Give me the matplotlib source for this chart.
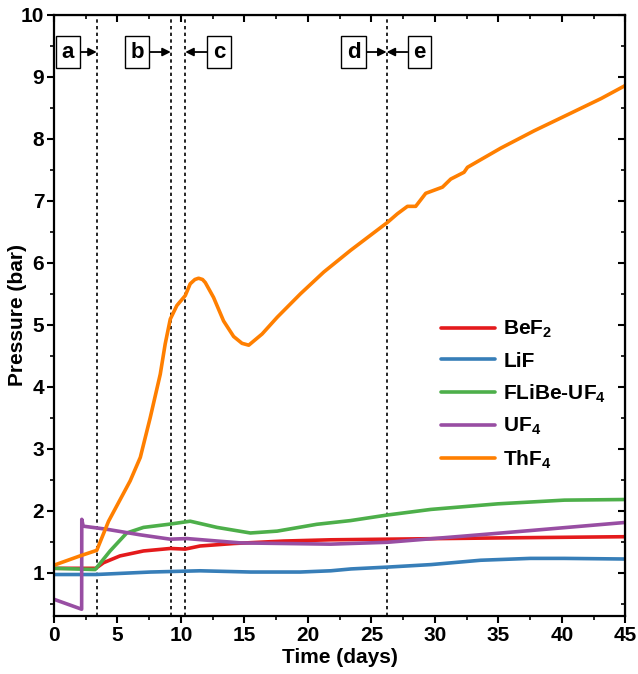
import matplotlib.pyplot as plt
from matplotlib.ticker import MultipleLocator

plt.rcParams['font.family'] = ['Liberation Sans', 'DejaVu Sans']
plt.rcParams['font.weight'] = 'bold'
plt.rcParams['mathtext.fontset'] = 'custom'
plt.rcParams['mathtext.bf'] = 'Liberation Sans:bold'
plt.rcParams['mathtext.rm'] = 'Liberation Sans:bold'
plt.rcParams['mathtext.default'] = 'bf'

bef2_t = [0, 3.3, 3.9, 5.2, 7.05, 9.16, 10.34, 11.5, 14.15, 18.1, 21.8, 26.3, 34.9, 45]
bef2_p = [1.07, 1.07, 1.16, 1.27, 1.35, 1.39, 1.38, 1.43, 1.47, 1.51, 1.53, 1.54, 1.56, 1.58]

lif_t = [0, 3.3, 7.6, 11.5, 15.5, 19.4, 21.8, 23.4, 26.3, 29.7, 33.6, 37.5, 40.2, 45]
lif_p = [0.97, 0.97, 1.01, 1.03, 1.01, 1.01, 1.03, 1.06, 1.09, 1.13, 1.20, 1.23, 1.23, 1.22]

flibe_t = [0, 3.24, 4.42, 5.73, 7.05, 9.02, 10.73, 12.84, 15.47, 17.58, 20.7, 23.36, 26.26,
           29.68, 34.94, 40.2, 45]
flibe_p = [1.07, 1.05, 1.35, 1.64, 1.73, 1.78, 1.83, 1.73, 1.64, 1.67, 1.78, 1.84, 1.93,
           2.02, 2.11, 2.17, 2.18]

uf4_t = [0, 2.18, 2.19, 2.3, 4.16, 6.79, 9.16, 10.47, 14.68, 21.8, 26.26, 32.3, 37.57, 45]
uf4_p = [0.57, 0.41, 1.86, 1.75, 1.70, 1.61, 1.54, 1.55, 1.48, 1.46, 1.49, 1.59, 1.68, 1.81]

thf4_t = [0, 2.05, 3.37, 4.3, 6.0, 6.8, 7.58, 8.37, 8.76, 9.16, 9.68, 10.34, 10.73, 11.1,
          11.39, 11.7, 11.92, 12.57, 13.36, 14.15, 14.81, 15.34, 16.39, 17.58, 19.42, 21.25,
          23.36, 26.26, 27.05, 27.84, 28.49, 29.28, 30.6, 31.25, 32.3, 32.57, 35.2, 37.83,
          40.47, 43.1, 45]
thf4_p = [1.12, 1.27, 1.36, 1.83, 2.48, 2.86, 3.50, 4.20, 4.69, 5.09, 5.31, 5.47, 5.66, 5.73,
          5.75, 5.73, 5.68, 5.44, 5.06, 4.81, 4.70, 4.67, 4.85, 5.12, 5.50, 5.85,
          6.20, 6.65, 6.79, 6.91, 6.91, 7.12, 7.22, 7.35, 7.46, 7.54, 7.85, 8.13,
          8.39, 8.65, 8.86]

labels = ['BeF$_2$', 'LiF', 'FLiBe-UF$_4$', 'UF$_4$', 'ThF$_4$']
colors = ['#e41a1c', '#377eb8', '#4daf4a', '#984ea3', '#ff7f00']

# stage markers
stage_lines = [3.37, 9.2, 10.34, 26.2]
stage_names = ['a', 'b', 'c', 'd', 'e']
stage_box_x = [1.1, 6.55, 13.0, 23.6, 28.8]
stage_target = [3.37, 9.2, 10.34, 26.2, 26.2]

fig = plt.figure(figsize=(6.38, 6.74), dpi=100)
ax = fig.add_axes([0.0846, 0.086, 0.8955, 0.892])

series = [(bef2_t, bef2_p), (lif_t, lif_p), (flibe_t, flibe_p), (uf4_t, uf4_p), (thf4_t, thf4_p)]
for (t, p), lab, c in zip(series, labels, colors):
    ax.plot(t, p, color=c, lw=2.6, label=lab, solid_capstyle='round')

for x in stage_lines:
    ax.axvline(x, color='black', ls=(0, (2, 2)), lw=1.2, zorder=1)

for name, bx, tx in zip(stage_names, stage_box_x, stage_target):
    ax.annotate(name, xy=(tx, 9.4), xytext=(bx, 9.4), ha='center', va='center',
                fontsize=16, fontweight='bold',
                bbox=dict(boxstyle='square,pad=0.25', fc='white', ec='black', lw=1),
                arrowprops=dict(arrowstyle='-|>', color='black', lw=1.3,
                                mutation_scale=12, shrinkA=0, shrinkB=0))

ax.set_xlim(0, 45)
ax.set_ylim(0.3, 10)
ax.xaxis.set_major_locator(MultipleLocator(5))
ax.xaxis.set_minor_locator(MultipleLocator(2.5))
ax.yaxis.set_major_locator(MultipleLocator(1))
ax.yaxis.set_minor_locator(MultipleLocator(0.5))
ax.tick_params(which='major', direction='out', length=5, width=1.5, labelsize=15, pad=2)
ax.tick_params(which='minor', direction='out', length=3, width=1.2)
for s in ax.spines.values():
    s.set_linewidth(1.6)

top = ax.secondary_xaxis('top')
top.xaxis.set_major_locator(MultipleLocator(5))
top.xaxis.set_minor_locator(MultipleLocator(2.5))
top.tick_params(which='major', direction='in', length=5, width=1.5, labeltop=False)
top.tick_params(which='minor', direction='in', length=3, width=1.2)
right = ax.secondary_yaxis('right')
right.yaxis.set_major_locator(MultipleLocator(1))
right.yaxis.set_minor_locator(MultipleLocator(0.5))
right.tick_params(which='major', direction='in', length=5, width=1.5, labelright=False)
right.tick_params(which='minor', direction='in', length=3, width=1.2)

ax.set_xlabel('Time (days)', fontsize=15, fontweight='bold', labelpad=2)
ax.set_ylabel('Pressure (bar)', fontsize=15, fontweight='bold')
ax.yaxis.set_label_coords(-0.047, 0.5)

ax.legend(loc='lower right', bbox_to_anchor=(1.0, 0.21), frameon=False, fontsize=15,
          handlelength=2.6, labelspacing=0.55, handletextpad=0.4)

fig.savefig('out.png', dpi=100)
